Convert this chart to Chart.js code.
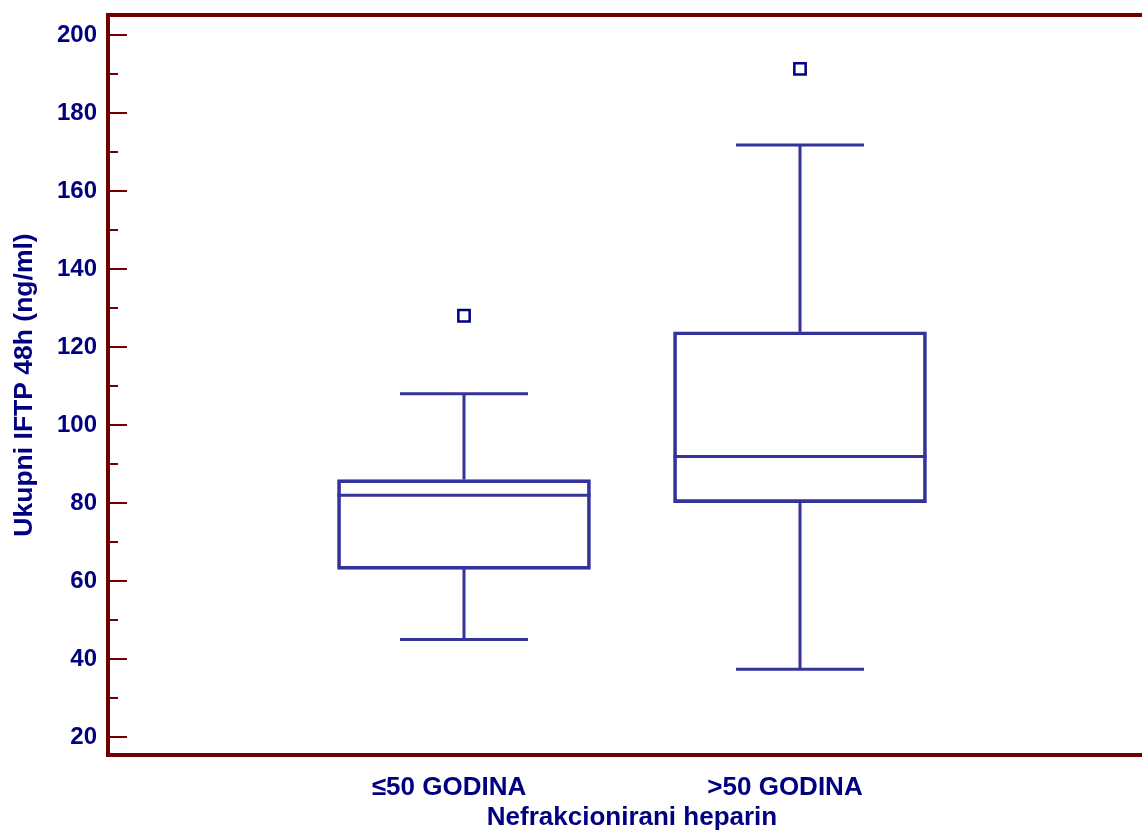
<!DOCTYPE html>
<html>
<head>
<meta charset="utf-8">
<script src="https://cdn.jsdelivr.net/npm/chart.js@4/dist/chart.umd.min.js"></script>
<style>
  html, body { margin: 0; padding: 0; background: #ffffff; overflow: hidden; }
  #wrap { width: 1142px; height: 832px; overflow: hidden; position: relative; }
  canvas { display: block; }
</style>
</head>
<body>
<div id="wrap"><canvas id="c" width="1200" height="832"></canvas></div>
<script>
// ---- data ----
const categories = ['\u226450 GODINA', '>50 GODINA'];
const whiskerLow = [45, 37.4];
const q1 = [63, 80.1];
const median = [82, 91.9];
const q3 = [86, 123.9];
const whiskerHigh = [108, 171.8];
const outliers = [128, 191.3];
const yTickLabels = ['20', '40', '60', '80', '100', '120', '140', '160', '180', '200'];
const xTitle = 'Nefrakcionirani heparin';
const yTitle = 'Ukupni IFTP 48h (ng/ml)';

// ---- styles ----
const AXIS = '#700000';
const TEXT = '#000080';
const BOX = '#333399';
const FONT = '"Liberation Sans", Arial, sans-serif';

const boxData = categories.map((c, i) => ({ x: i + 1, y: [q1[i], q3[i]] }));
const outlierData = categories.map((c, i) => ({ x: i + 1, y: outliers[i] }));

const boxPlugin = {
  id: 'boxExtras',
  afterDatasetsDraw(chart) {
    const { ctx, scales: { x, y } } = chart;
    ctx.save();
    ctx.strokeStyle = BOX;
    ctx.lineWidth = 3;
    ctx.lineCap = 'butt';
    const halfBox = 126.5;
    const halfCap = 64;
    categories.forEach((c, i) => {
      const cx = x.getPixelForValue(i + 1);
      const yMed = y.getPixelForValue(median[i]);
      const yQ1 = y.getPixelForValue(q1[i]);
      const yQ3 = y.getPixelForValue(q3[i]);
      const yLo = y.getPixelForValue(whiskerLow[i]);
      const yHi = y.getPixelForValue(whiskerHigh[i]);
      ctx.beginPath();
      ctx.moveTo(cx - halfBox, yMed); ctx.lineTo(cx + halfBox, yMed);
      ctx.moveTo(cx, yQ3); ctx.lineTo(cx, yHi);
      ctx.moveTo(cx, yQ1); ctx.lineTo(cx, yLo);
      ctx.moveTo(cx - halfCap, yHi); ctx.lineTo(cx + halfCap, yHi);
      ctx.moveTo(cx - halfCap, yLo); ctx.lineTo(cx + halfCap, yLo);
      ctx.stroke();
    });
    ctx.restore();
  },
  afterDraw(chart) {
    const { ctx, scales: { y }, chartArea } = chart;
    ctx.save();
    ctx.strokeStyle = AXIS;
    ctx.lineWidth = 4;
    ctx.beginPath();
    ctx.moveTo(chartArea.left - 2, chartArea.top);
    ctx.lineTo(chartArea.right, chartArea.top);
    ctx.lineTo(chartArea.right, chartArea.bottom);
    ctx.stroke();
    ctx.lineWidth = 2;
    ctx.beginPath();
    y.ticks.forEach(t => {
      const py = Math.round(y.getPixelForValue(t.value));
      const major = t.value % 20 === 0;
      ctx.moveTo(chartArea.left + 2, py);
      ctx.lineTo(chartArea.left + (major ? 19 : 10), py);
    });
    ctx.stroke();
    ctx.restore();
  }
};

new Chart(document.getElementById('c'), {
  data: {
    datasets: [
      {
        type: 'bar',
        data: boxData,
        backgroundColor: 'rgba(0,0,0,0)',
        borderColor: BOX,
        borderWidth: 3,
        borderSkipped: false,
        barThickness: 253
      },
      {
        type: 'scatter',
        data: outlierData,
        pointStyle: 'rect',
        pointRadius: 8,
        borderWidth: 2.5,
        borderColor: TEXT,
        backgroundColor: 'rgba(0,0,0,0)'
      }
    ]
  },
  options: {
    responsive: false,
    animation: false,
    devicePixelRatio: 1,
    layout: { padding: { top: 15, right: 44, left: 0, bottom: 0 } },
    plugins: { legend: { display: false }, tooltip: { enabled: false } },
    scales: {
      x: {
        type: 'linear',
        offset: false,
        min: -0.0595,
        max: 3.0595,
        afterBuildTicks(scale) { scale.ticks = categories.map((c, i) => ({ value: i + 1 })); },
        afterFit(scale) { scale.height = 77; scale.paddingLeft = 0; scale.paddingRight = 0; },
        grid: { display: false, offset: false },
        border: { display: true, color: AXIS, width: 4 },
        ticks: {
          autoSkip: false,
          maxRotation: 0,
          padding: 9,
          labelOffset: -15,
          color: TEXT,
          font: { family: FONT, size: 26, weight: 'bold' },
          callback: (v) => categories[v - 1] || ''
        },
        title: {
          display: true,
          text: xTitle,
          color: TEXT,
          font: { family: FONT, size: 26, weight: 'bold', lineHeight: 1.1 },
          padding: { top: 0, bottom: 0 }
        }
      },
      y: {
        type: 'linear',
        min: 15.4,
        max: 205.1,
        afterFit(scale) { scale.width = 108; scale.paddingTop = 0; scale.paddingBottom = 0; },
        grid: { display: false },
        border: { display: true, color: AXIS, width: 4 },
        ticks: {
          stepSize: 10,
          includeBounds: false,
          autoSkip: false,
          padding: 3,
          color: TEXT,
          font: { family: FONT, size: 24, weight: 'bold' },
          callback: (v) => (v % 20 === 0 ? yTickLabels[(v - 20) / 20] : '')
        },
        title: {
          display: true,
          text: yTitle,
          color: TEXT,
          font: { family: FONT, size: 26.5, weight: 'bold' },
          padding: { top: 9, bottom: 0 }
        }
      }
    }
  },
  plugins: [boxPlugin]
});
</script>
</body>
</html>
